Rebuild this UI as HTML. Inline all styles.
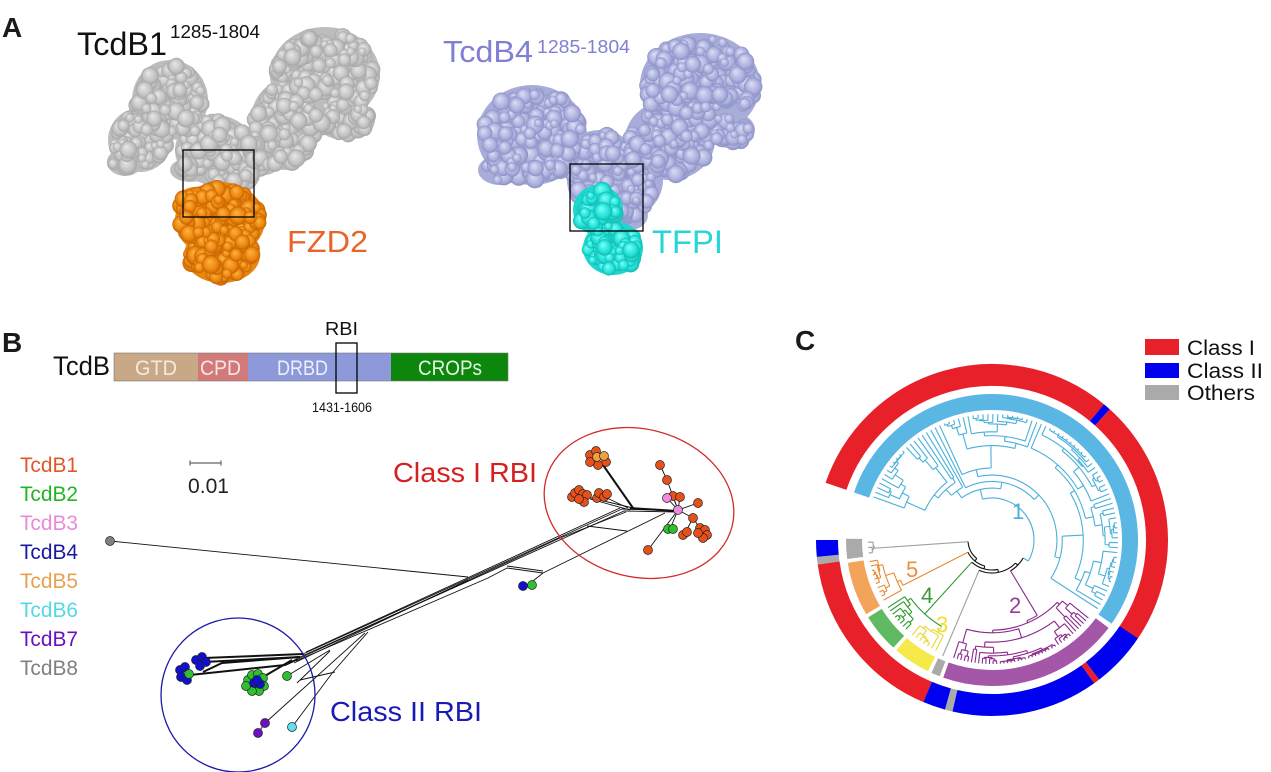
<!DOCTYPE html>
<html><head><meta charset="utf-8"><style>
html,body{margin:0;padding:0;background:#fff;}
svg{display:block;font-family:"Liberation Sans",Arial,sans-serif;}
</style></head><body>
<svg id="s" width="1271" height="772" viewBox="0 0 1271 772" xmlns="http://www.w3.org/2000/svg">
<defs>
<radialGradient id="gg" cx="0.5" cy="0.5" r="0.5" fx="0.38" fy="0.32"><stop offset="0" stop-color="#e8e8e8"/><stop offset="0.7" stop-color="#c3c3c3"/><stop offset="1" stop-color="#a6a6a6"/></radialGradient>
<radialGradient id="go" cx="0.5" cy="0.5" r="0.5" fx="0.38" fy="0.32"><stop offset="0" stop-color="#ffb440"/><stop offset="0.7" stop-color="#ec8610"/><stop offset="1" stop-color="#c46400"/></radialGradient>
<radialGradient id="gp" cx="0.5" cy="0.5" r="0.5" fx="0.38" fy="0.32"><stop offset="0" stop-color="#dcdef6"/><stop offset="0.7" stop-color="#adb1dd"/><stop offset="1" stop-color="#8c92c6"/></radialGradient>
<radialGradient id="gc" cx="0.5" cy="0.5" r="0.5" fx="0.38" fy="0.32"><stop offset="0" stop-color="#80fff6"/><stop offset="0.7" stop-color="#22e2da"/><stop offset="1" stop-color="#14b8b0"/></radialGradient>
</defs>

<!-- Panel A -->
<g id="protG"></g><g id="protO"></g><g id="protP"></g><g id="protC"></g>
<rect x="183" y="150" width="71" height="67" fill="none" stroke="#000" stroke-width="1.3"/>
<rect x="570" y="164" width="73" height="67" fill="none" stroke="#000" stroke-width="1.3"/>
<text x="2" y="37" font-size="28" font-weight="bold" fill="#1a1a1a">A</text>
<text x="77" y="55" font-size="32" fill="#111" textLength="90" lengthAdjust="spacingAndGlyphs">TcdB1</text>
<text x="170" y="38" font-size="18.5" fill="#111" textLength="90" lengthAdjust="spacingAndGlyphs">1285-1804</text>
<text x="287" y="252" font-size="31" fill="#e8642a" textLength="81" lengthAdjust="spacingAndGlyphs">FZD2</text>
<text x="443" y="62" font-size="31" fill="#7f7fd4" textLength="90" lengthAdjust="spacingAndGlyphs">TcdB4</text>
<text x="537" y="53" font-size="18.5" fill="#7f7fd4" textLength="93" lengthAdjust="spacingAndGlyphs">1285-1804</text>
<text x="652" y="253" font-size="32" fill="#26d6d6" textLength="71" lengthAdjust="spacingAndGlyphs">TFPI</text>

<!-- Panel B header -->
<text x="2" y="352" font-size="28" font-weight="bold" fill="#1a1a1a">B</text>
<text x="53" y="375" font-size="27" fill="#111" textLength="57" lengthAdjust="spacingAndGlyphs">TcdB</text>
<rect x="114" y="353" width="84" height="28" fill="#c9a887"/>
<rect x="198" y="353" width="50" height="28" fill="#d27a7a"/>
<rect x="248" y="353" width="143" height="28" fill="#8d99d9"/>
<rect x="391" y="353" width="117" height="28" fill="#0c870c"/>
<rect x="114" y="353" width="394" height="28" fill="none" stroke="#777" stroke-width="0.6"/>
<text x="135" y="375" font-size="21" fill="#f3ebe2" textLength="42" lengthAdjust="spacingAndGlyphs">GTD</text>
<text x="200" y="375" font-size="21" fill="#f6e6e6" textLength="41" lengthAdjust="spacingAndGlyphs">CPD</text>
<text x="277" y="375" font-size="21" fill="#eceffc" textLength="51" lengthAdjust="spacingAndGlyphs">DRBD</text>
<text x="418" y="375" font-size="21" fill="#e6f4e6" textLength="64" lengthAdjust="spacingAndGlyphs">CROPs</text>
<rect x="336" y="343" width="21" height="50" fill="none" stroke="#000" stroke-width="1.3"/>
<text x="325" y="335" font-size="18" fill="#111" textLength="33" lengthAdjust="spacingAndGlyphs">RBI</text>
<text x="312" y="412" font-size="14" fill="#111" textLength="60" lengthAdjust="spacingAndGlyphs">1431-1606</text>

<!-- legend B -->
<g font-size="21">
<text x="20" y="472" fill="#e0582a" textLength="58" lengthAdjust="spacingAndGlyphs">TcdB1</text>
<text x="20" y="501" fill="#22b422" textLength="58" lengthAdjust="spacingAndGlyphs">TcdB2</text>
<text x="20" y="530" fill="#ea8ada" textLength="58" lengthAdjust="spacingAndGlyphs">TcdB3</text>
<text x="20" y="559" fill="#1a1aa0" textLength="58" lengthAdjust="spacingAndGlyphs">TcdB4</text>
<text x="20" y="588" fill="#e8a050" textLength="58" lengthAdjust="spacingAndGlyphs">TcdB5</text>
<text x="20" y="617" fill="#55d8e4" textLength="58" lengthAdjust="spacingAndGlyphs">TcdB6</text>
<text x="20" y="646" fill="#6a10c0" textLength="58" lengthAdjust="spacingAndGlyphs">TcdB7</text>
<text x="20" y="675" fill="#808080" textLength="58" lengthAdjust="spacingAndGlyphs">TcdB8</text>
</g>
<path d="M190,463 L221,463 M190,460.5 L190,465.5 M221,460.5 L221,465.5" stroke="#666" stroke-width="1.2" fill="none"/>
<text x="188" y="493" font-size="21" fill="#222" textLength="41" lengthAdjust="spacingAndGlyphs">0.01</text>

<!-- tree B lines -->
<g fill="none" stroke="#111" stroke-width="0.9" stroke-linejoin="round">
<path d="M110,541 L468,577"/>
<path d="M303,654 L622,509 L677,511"/>
<path d="M300,657 L624,511 L677,512"/>
<path d="M298,659 L560,538 L626,512"/>
<path d="M296,661 L488,578 L507,568 L543,573 L665,513"/>
<path d="M306,652 L620,508"/>
<path d="M294,663 L468,580"/>
<path d="M587,526 L627,531"/>
<path d="M507,566 L543,571"/>
<path d="M528,585 L543,573"/>
<path d="M287,676 L330,650"/>
<path d="M265,723 L365,633"/>
<path d="M258,733 L265,723"/>
<path d="M292,727 L333,672 L368,632"/>
<path d="M297,683 L330,651"/>
<path d="M300,680 L335,672"/>
<path d="M587,497 L633,508"/>
<path d="M607,498 L628,508"/>
<path d="M590,499 L630,510"/>
<path d="M660,465 L667,480 L678,510"/>
<path d="M667,498 L678,510 M680,497 L678,510 M673,496 L678,510 M698,503 L678,510"/>
<path d="M678,510 L693,518 L703,533 M693,518 L685,533 M678,510 L670,529 M678,510 L648,550"/>
</g>
<g fill="none" stroke="#111" stroke-width="2">
<path d="M603,465 L633,508"/>
<path d="M630,508 L677,511"/>
<path d="M204,658 L303,654"/>
<path d="M204,662 L300,657"/>
<path d="M190,675 L285,665 L298,659"/>
<path d="M203,672 L222,663 L300,657"/>
<path d="M258,680 L292,660"/>
</g>

<!-- nodes B -->
<g stroke="#222" stroke-width="0.7">
<g fill="#e8501a">
<circle cx="590" cy="455" r="4.5"/><circle cx="596" cy="451" r="4.5"/><circle cx="606" cy="462" r="4.5"/><circle cx="598" cy="465" r="4.5"/><circle cx="590" cy="462" r="4.5"/>
<circle cx="572" cy="497" r="4.5"/><circle cx="575" cy="493" r="4.5"/><circle cx="579" cy="490" r="4.5"/><circle cx="583" cy="494" r="4.5"/><circle cx="587" cy="495" r="4.5"/><circle cx="584" cy="502" r="4.5"/><circle cx="579" cy="499" r="4.5"/>
<circle cx="597" cy="498" r="4.5"/><circle cx="599" cy="493" r="4.5"/><circle cx="604" cy="497" r="4.5"/><circle cx="607" cy="494" r="4.5"/>
<circle cx="660" cy="465" r="4.5"/><circle cx="667" cy="480" r="4.5"/><circle cx="673" cy="496" r="4.5"/><circle cx="680" cy="497" r="4.5"/><circle cx="698" cy="503" r="4.5"/><circle cx="693" cy="518" r="4.5"/>
<circle cx="700" cy="528" r="4.5"/><circle cx="705" cy="530" r="4.5"/><circle cx="707" cy="535" r="4.5"/><circle cx="703" cy="538" r="4.5"/><circle cx="698" cy="533" r="4.5"/>
<circle cx="683" cy="535" r="4.5"/><circle cx="687" cy="532" r="4.5"/><circle cx="648" cy="550" r="4.5"/>
</g>
<g fill="#f0a040"><circle cx="597" cy="457" r="4.5"/><circle cx="604" cy="456" r="4.5"/></g>
<g fill="#f08ae0"><circle cx="667" cy="498" r="4.5"/><circle cx="678" cy="510" r="4.5"/></g>
<g fill="#2ec02e"><circle cx="668" cy="529" r="4.5"/><circle cx="673" cy="529" r="4.5"/><circle cx="532" cy="585" r="4.5"/><circle cx="287" cy="676" r="4.5"/>
<circle cx="248" cy="680" r="4.5"/><circle cx="252" cy="675" r="4.5"/><circle cx="258" cy="674" r="4.5"/><circle cx="263" cy="678" r="4.5"/><circle cx="264" cy="686" r="4.5"/><circle cx="259" cy="691" r="4.5"/><circle cx="252" cy="691" r="4.5"/><circle cx="246" cy="686" r="4.5"/>
</g>
<g fill="#1010d0"><circle cx="523" cy="586" r="4.5"/>
<circle cx="196" cy="660" r="4.5"/><circle cx="202" cy="657" r="4.5"/><circle cx="206" cy="662" r="4.5"/><circle cx="200" cy="666" r="4.5"/>
<circle cx="180" cy="670" r="4.5"/><circle cx="185" cy="667" r="4.5"/><circle cx="181" cy="677" r="4.5"/><circle cx="187" cy="680" r="4.5"/>
<circle cx="254" cy="683" r="4.5"/><circle cx="260" cy="684" r="4.5"/><circle cx="257" cy="680" r="4.5"/>
</g>
<circle cx="189" cy="674" r="4.5" fill="#2ec02e"/>
<g fill="#7010c0"><circle cx="265" cy="723" r="4.5"/><circle cx="258" cy="733" r="4.5"/></g>
<circle cx="292" cy="727" r="4.5" fill="#60e0f0"/>
<circle cx="110" cy="541" r="4.5" fill="#808080"/>
</g>

<ellipse cx="639" cy="503" rx="96" ry="74" transform="rotate(14 639 503)" fill="none" stroke="#d42a2a" stroke-width="1.3"/>
<circle cx="238" cy="695" r="77" fill="none" stroke="#1a1aa8" stroke-width="1.3"/>
<text x="393" y="482" font-size="28" fill="#d42020" textLength="144" lengthAdjust="spacingAndGlyphs">Class I RBI</text>
<text x="330" y="721" font-size="28" fill="#1a1ab4" textLength="152" lengthAdjust="spacingAndGlyphs">Class II RBI</text>

<!-- Panel C -->
<text x="795" y="350" font-size="28" font-weight="bold" fill="#1a1a1a">C</text>
<rect x="1145" y="339" width="34" height="16" fill="#e8202a"/>
<rect x="1145" y="363" width="34" height="15" fill="#0000ee"/>
<rect x="1145" y="385" width="34" height="15" fill="#aaaaaa"/>
<text x="1187" y="355" font-size="21" fill="#111" textLength="68" lengthAdjust="spacingAndGlyphs">Class I</text>
<text x="1187" y="378" font-size="21" fill="#111" textLength="76" lengthAdjust="spacingAndGlyphs">Class II</text>
<text x="1187" y="400" font-size="21" fill="#111" textLength="68" lengthAdjust="spacingAndGlyphs">Others</text>
<g id="rings"></g>
<g id="treeC"></g>
<g font-size="22">
<text x="1012" y="519" fill="#4ab0d8">1</text>
<text x="1009" y="613" fill="#9a3a9a">2</text>
<text x="936" y="632" fill="#efe030">3</text>
<text x="921" y="603" fill="#3a9a3a">4</text>
<text x="906" y="577" fill="#e8903a">5</text>
</g>
</svg>
<script>
(function(){
var NS="http://www.w3.org/2000/svg";
function el(p,tag,a){var e=document.createElementNS(NS,tag);for(var k in a)e.setAttribute(k,a[k]);p.appendChild(e);return e;}
function mul(a){return function(){a|=0;a=a+0x6D2B79F5|0;var t=Math.imul(a^a>>>15,1|a);t=t+Math.imul(t^t>>>7,61|t)^t;return((t^t>>>14)>>>0)/4294967296;};}
function G(id){return document.getElementById(id);}

function protein(g,ells,base,grad,seed){
  var R=mul(seed),area=0,minx=1e9,maxx=-1e9,miny=1e9,maxy=-1e9;
  ells.forEach(function(e){el(g,'ellipse',{cx:e[0],cy:e[1],rx:e[2],ry:e[3],fill:base});
    area+=Math.PI*e[2]*e[3];minx=Math.min(minx,e[0]-e[2]);maxx=Math.max(maxx,e[0]+e[2]);miny=Math.min(miny,e[1]-e[3]);maxy=Math.max(maxy,e[1]+e[3]);});
  function inside(x,y){for(var i=0;i<ells.length;i++){var e=ells[i];var dx=(x-e[0])/(e[2]-5),dy=(y-e[1])/(e[3]-5);if(dx*dx+dy*dy<=1)return true;}return false;}
  var n=Math.round(area/45),c=0,t=0;
  while(c<n&&t<n*30){t++;var x=minx+R()*(maxx-minx),y=miny+R()*(maxy-miny);if(!inside(x,y))continue;
    var r=4+R()*5.5;el(g,'circle',{cx:x.toFixed(1),cy:y.toFixed(1),r:r.toFixed(1),fill:'url(#'+grad+')'});c++;}
}
protein(G('protG'),[[170,100,38,40],[140,140,32,32],[125,162,18,14],[215,150,40,35],[230,175,30,20],[325,75,55,48],[285,125,35,45],[345,120,30,20],[265,150,20,25],[190,170,20,12]],'#bdbdbd','gg',11);
protein(G('protO'),[[220,220,45,38],[222,255,38,28],[195,205,20,18]],'#e88510','go',23);
protein(G('protP'),[[532,135,55,50],[500,170,22,15],[700,85,60,52],[670,140,45,40],[615,180,48,42],[630,215,18,15],[730,130,25,18],[600,150,30,20]],'#a8acd8','gp',37);
protein(G('protC'),[[598,210,25,25],[613,248,30,27]],'#1ed8d0','gc',41);

/* Panel C */
var cx=992,cy=540;
function P(r,a){var t=a*Math.PI/180;return (cx+r*Math.cos(t)).toFixed(2)+','+(cy+r*Math.sin(t)).toFixed(2);}
function arcD(r,a1,a2){if(a2<a1){var t=a1;a1=a2;a2=t;}var l=(a2-a1)>180?1:0;return 'M'+P(r,a1)+' A'+r+' '+r+' 0 '+l+' 1 '+P(r,a2);}
function rad(r1,r2,a){return 'M'+P(r1,a)+' L'+P(r2,a);}
var rg=G('rings');
function seg(r,w,a1,a2,col){el(rg,'path',{d:arcD(r,a1,a2),fill:'none',stroke:col,'stroke-width':w});}
var RED='#e8202a',BLU='#0000f0',GRY='#aaaaaa';
seg(165,22,199,309.5,RED);seg(165,22,309.5,312,BLU);seg(165,22,312,394.2,RED);
seg(165,22,34,52.5,BLU);seg(165,22,52.5,54.5,RED);seg(165,22,54.5,103,BLU);seg(165,22,103,105.5,GRY);
seg(165,22,105.5,113,BLU);seg(165,22,113,172,RED);seg(165,22,172,174.5,GRY);seg(165,22,174.5,180,BLU);
seg(138,16,199,395,'#5ab7e4');seg(138,16,37,109.5,'#a457a8');seg(138,16,111,114.5,GRY);
seg(138,16,116,131,'#f6e94a');seg(138,16,132.5,148,'#5fba62');seg(138,16,149.5,171,'#f2a45a');seg(138,16,172.5,180.5,GRY);

var tg=G('treeC');
function tree(color,a0,a1,n,rp,rl,seed,o){
  var R=mul(seed),d=[],st=n>1?(a1-a0)/(n-1):0;
  function la(i){return n==1?(a0+a1)/2:a0+i*st;}
  function sub(lo,hi,rpar,dep){
    if(hi-lo==1){var a=la(lo);d.push(rad(rpar,rl,a));return a;}
    var f=dep<o.sh?o.f0+R()*o.f0:0.12+R()*0.4;
    var rn=rpar+(rl-rpar)*f;if(rl-rn<2)rn=rl-2;
    var m=hi-lo,k;
    if(R()<o.lad){k=R()<0.5?lo+1:hi-1;}else{k=lo+1+Math.floor(R()*(m-1));}
    var A=sub(lo,k,rn,dep+1),B=sub(k,hi,rn,dep+1);
    d.push(arcD(rn,A,B));var am=(A+B)/2;d.push(rad(rpar,rn,am));return am;
  }
  var ra=sub(0,n,rp,0);
  el(tg,'path',{d:d.join(' '),fill:'none',stroke:color,'stroke-width':1.1});
  return ra;
}
function line(d,c){el(tg,'path',{d:d,fill:'none',stroke:c,'stroke-width':1.1});}
var LB='#4ab0d8',PU='#8a2a8a',YE='#e8d830',GR='#2a9a2a',OR='#e88a30',GY='#a0a0a0';
var r1=tree(LB,200,393,86,42,126,5,{sh:4,f0:0.07,lad:0.35});
line(arcD(42,r1,390)+' '+rad(36,42,30),LB);
var r2=tree(PU,39,108,42,88,124,9,{sh:2,f0:0.05,lad:0.3});
line(arcD(88,59,r2)+' '+rad(36,88,59),PU);
line(rad(33,126,113),GY);
var r3=tree(YE,117,130,7,104,124,13,{sh:1,f0:0.1,lad:0.4});
var r4=tree(GR,134,147,8,100,124,17,{sh:1,f0:0.1,lad:0.5});
line(rad(100,104,r3),YE);
var gy=(r3+r4)/2;
line(arcD(100,r3,r4)+' '+rad(30,100,gy),GR);
var r5=tree(OR,151,170,10,100,124,19,{sh:0,f0:0.1,lad:0.95});
var oa=153;
line(arcD(100,oa,r5)+' '+rad(27,100,oa),OR);
var r6=tree(GY,174,179,3,118,124,23,{sh:0,f0:0.2,lad:0.5});
var ga=176;
line(arcD(118,ga,r6)+' '+rad(24,118,ga),GY);
/* black root */
var n5=(59+30)/2,n4=(113+n5)/2,n3=(gy+n4)/2,n2=(oa+n3)/2;
var bd=[arcD(36,30,59),rad(33,36,n5),arcD(33,n5,113),rad(30,33,n4),arcD(30,n4,gy),rad(27,30,n3),arcD(27,n3,oa),rad(24,27,n2),arcD(24,n2,ga)].join(' ');
line(bd,'#111');
})();
</script>
</body></html>
